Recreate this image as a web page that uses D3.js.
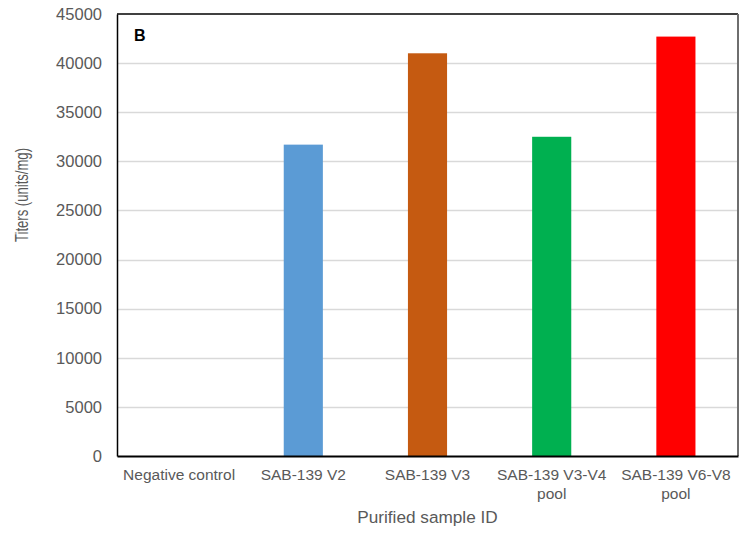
<!DOCTYPE html>
<html>
<head>
<meta charset="utf-8">
<script src="https://cdn.jsdelivr.net/npm/d3@7"></script>
<style>
  body { margin: 0; background: #fff; }
  svg { display: block; font-family: "Liberation Sans", Arial, sans-serif; }
</style>
</head>
<body>
<svg id="chart" width="749" height="533"></svg>
<script>
// Titers per purified sample
const categories = ["Negative control", "SAB-139 V2", "SAB-139 V3", "SAB-139 V3-V4 pool", "SAB-139 V6-V8 pool"];
const labelLines = [["Negative control"], ["SAB-139 V2"], ["SAB-139 V3"], ["SAB-139 V3-V4", "pool"], ["SAB-139 V6-V8", "pool"]];
const titers = [0, 31700, 41000, 32500, 42700];
const barColors = ["#a5a5a5", "#5b9bd5", "#c55a11", "#00b050", "#ff0000"];
const yTicks = [0, 5000, 10000, 15000, 20000, 25000, 30000, 35000, 40000, 45000];

const svg = d3.select("#chart");
const margin = { left: 117, right: 11, top: 14, bottom: 77 };
const W = 749, H = 533;
const x0 = margin.left, x1 = W - margin.right;
const y0 = H - margin.bottom, y1 = margin.top;

const x = d3.scaleBand().domain(categories).range([x0, x1]).padding(0);
const y = d3.scaleLinear().domain([0, 45000]).range([y0, y1]);
const barW = x.bandwidth() * 0.315;
const textColor = "#595959";

// Horizontal gridlines
svg.append("g")
  .selectAll("line")
  .data(yTicks.filter(t => t > 0 && t < 45000))
  .join("line")
  .attr("x1", x0).attr("x2", x1)
  .attr("y1", d => Math.round(y(d)) + 0.5).attr("y2", d => Math.round(y(d)) + 0.5)
  .attr("stroke", "#d9d9d9").attr("stroke-width", 1.5);

// Bars (zero-height for the negative control)
svg.append("g")
  .selectAll("rect")
  .data(categories.map((c, i) => ({ c, v: titers[i], col: barColors[i] })))
  .join("rect")
  .attr("x", d => x(d.c) + (x.bandwidth() - barW) / 2)
  .attr("width", barW)
  .attr("y", d => y(d.v))
  .attr("height", d => y0 - y(d.v))
  .attr("fill", d => d.col);

// Plot frame: black top, gray right
svg.append("line").attr("x1", x0).attr("x2", x1).attr("y1", y1).attr("y2", y1)
  .attr("stroke", "#000").attr("stroke-width", 1.5);
svg.append("line").attr("x1", x1).attr("x2", x1).attr("y1", y1).attr("y2", y0)
  .attr("stroke", "#6e6e6e").attr("stroke-width", 2);

// Y axis
const yAxis = d3.axisLeft(y).tickValues(yTicks).tickSize(0).tickPadding(15).tickFormat(d3.format("d"));
const gy = svg.append("g").attr("transform", `translate(${x0},0)`).call(yAxis);
gy.select(".domain").attr("stroke", "#000").attr("stroke-width", 1.5);
gy.selectAll("text").attr("fill", textColor).attr("font-size", 16.5)
  .attr("font-family", "Liberation Sans, Arial, sans-serif");

// X axis
const xAxis = d3.axisBottom(x).tickSize(0).tickFormat("");
const gx = svg.append("g").attr("transform", `translate(0,${y0})`).call(xAxis);
gx.select(".domain").attr("stroke", "#000").attr("stroke-width", 2);

// Category labels (wrapped)
svg.append("g")
  .selectAll("text")
  .data(categories.map((c, i) => ({ c, lines: labelLines[i] })))
  .join("text")
  .attr("x", d => x(d.c) + x.bandwidth() / 2)
  .attr("y", y0 + 24)
  .attr("text-anchor", "middle")
  .attr("fill", textColor)
  .attr("font-size", 15.5)
  .selectAll("tspan")
  .data(d => d.lines.map(l => ({ l, cx: x(d.c) + x.bandwidth() / 2 })))
  .join("tspan")
  .attr("x", d => d.cx)
  .attr("dy", (d, i) => i === 0 ? 0 : 18.5)
  .text(d => d.l);

// Axis titles
svg.append("text")
  .attr("x", (x0 + x1) / 2).attr("y", 523)
  .attr("text-anchor", "middle").attr("fill", textColor).attr("font-size", 17.2)
  .text("Purified sample ID");

svg.append("text")
  .attr("transform", "translate(28,195) rotate(-90)")
  .attr("text-anchor", "middle").attr("fill", textColor).attr("font-size", 17.5)
  .attr("textLength", 94).attr("lengthAdjust", "spacingAndGlyphs")
  .text("Titers (units/mg)");

// Panel letter
svg.append("text")
  .attr("x", 134).attr("y", 41)
  .attr("fill", "#000").attr("font-size", 16).attr("font-weight", "bold")
  .text("B");
</script>
</body>
</html>
